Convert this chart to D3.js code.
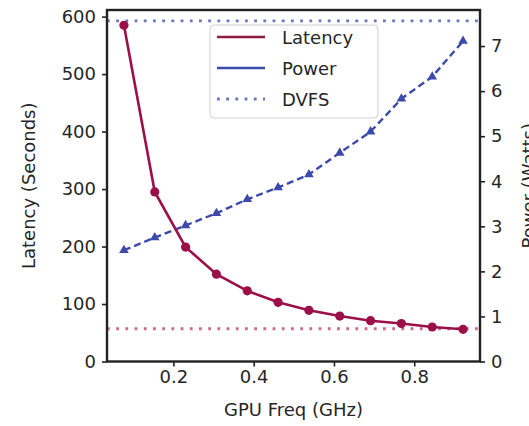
<!DOCTYPE html>
<html>
<head>
<meta charset="utf-8">
<script src="https://cdn.jsdelivr.net/npm/d3@7"></script>
<style>
  body { margin: 0; background: #fff; }
  svg text { font-family: "DejaVu Sans", sans-serif; fill: #262626; }
</style>
</head>
<body>
<svg width="529" height="426"></svg>
<script>
// data
var freqs = [0.0768, 0.1536, 0.2304, 0.3072, 0.384, 0.4608, 0.5376, 0.6144, 0.6912, 0.768, 0.8448, 0.9216];
var latency = [585, 295, 199, 152, 123, 103, 89, 79, 71, 66, 60, 56];
var power = [2.47, 2.75, 3.02, 3.29, 3.6, 3.86, 4.15, 4.63, 5.1, 5.83, 6.32, 7.11];
var dvfsLatency = 57;
var dvfsPower = 7.56;
var xTicks = [0.2, 0.4, 0.6, 0.8];
var latTicks = [0, 100, 200, 300, 400, 500, 600];
var powTicks = [0, 1, 2, 3, 4, 5, 6, 7];
var legendItems = ["Latency", "Power", "DVFS"];

var svg = d3.select("svg");
var plotL = 107, plotR = 480, plotT = 10, plotB = 361.5;
var red = "#9b1048", blue = "#3d4aac";
var dots = "2.8,6.4";

var x = d3.scaleLinear().domain([0.0346, 0.9638]).range([plotL, plotR]);
var yL = d3.scaleLinear().domain([0, 611.5]).range([plotB, plotT]);
var yR = d3.scaleLinear().domain([0, 7.8]).range([plotB, plotT]);

// dvfs reference lines
svg.append("line")
  .attr("x1", plotL).attr("x2", plotR)
  .attr("y1", yR(dvfsPower)).attr("y2", yR(dvfsPower))
  .attr("stroke", blue).attr("stroke-width", 2.8)
  .attr("stroke-dasharray", dots).attr("opacity", 0.75);
svg.append("line")
  .attr("x1", plotL).attr("x2", plotR)
  .attr("y1", yL(dvfsLatency)).attr("y2", yL(dvfsLatency))
  .attr("stroke", "#c2386a").attr("stroke-width", 2.8)
  .attr("stroke-dasharray", dots).attr("opacity", 0.75);

// power line
svg.append("path")
  .datum(power)
  .attr("fill", "none")
  .attr("stroke", blue)
  .attr("stroke-width", 2.4)
  .attr("stroke-dasharray", "7,4")
  .attr("d", d3.line().x(function (d, i) { return x(freqs[i]); }).y(function (d) { return yR(d); }));

svg.append("g").selectAll("path")
  .data(power)
  .enter()
  .append("path")
    .attr("d", d3.symbol().type(d3.symbolTriangle).size(40))
    .attr("transform", function (d, i) { return "translate(" + x(freqs[i]) + "," + yR(d) + ")"; })
    .attr("fill", blue);

// latency line
svg.append("path")
  .datum(latency)
  .attr("fill", "none")
  .attr("stroke", red)
  .attr("stroke-width", 2.6)
  .attr("d", d3.line().x(function (d, i) { return x(freqs[i]); }).y(function (d) { return yL(d); }));

svg.append("g").selectAll("circle")
  .data(latency)
  .enter()
  .append("circle")
    .attr("cx", function (d, i) { return x(freqs[i]); })
    .attr("cy", function (d) { return yL(d); })
    .attr("r", 4.6)
    .attr("fill", red);

// frame
svg.append("rect")
  .attr("x", plotL).attr("y", plotT)
  .attr("width", plotR - plotL).attr("height", plotB - plotT)
  .attr("fill", "none").attr("stroke", "#222").attr("stroke-width", 2.4);

// axes
function styleAxis(g) {
  g.select(".domain").remove();
  g.selectAll(".tick line").attr("stroke", "#222").attr("stroke-width", 1.6);
  g.selectAll(".tick text").style("font-size", "18px").attr("fill", null);
}

svg.append("g")
  .attr("transform", "translate(0," + plotB + ")")
  .call(d3.axisBottom(x).tickValues(xTicks).tickSize(5).tickPadding(4).tickFormat(d3.format(".1f")))
  .call(styleAxis);

svg.append("g")
  .attr("transform", "translate(" + plotL + ",0)")
  .call(d3.axisLeft(yL).tickValues(latTicks).tickSize(5).tickPadding(6))
  .call(styleAxis);

svg.append("g")
  .attr("transform", "translate(" + plotR + ",0)")
  .call(d3.axisRight(yR).tickValues(powTicks).tickSize(5).tickPadding(6))
  .call(styleAxis);

// axis titles
svg.append("text")
  .attr("x", (plotL + plotR) / 2).attr("y", 416)
  .attr("text-anchor", "middle").style("font-size", "18px")
  .text("GPU Freq (GHz)");

svg.append("text")
  .attr("transform", "translate(35," + (plotT + plotB) / 2 + ") rotate(-90)")
  .attr("text-anchor", "middle").style("font-size", "18px")
  .text("Latency (Seconds)");

// clipped by the page edge, as in the original
svg.append("text")
  .attr("transform", "translate(535," + (plotT + plotB) / 2 + ") rotate(-90)")
  .attr("text-anchor", "middle").style("font-size", "18px")
  .text("Power (Watts)");

// legend
var legend = svg.append("g");
legend.append("rect")
  .attr("x", 210).attr("y", 25).attr("width", 168).attr("height", 93)
  .attr("rx", 4)
  .attr("fill", "#fff").attr("fill-opacity", 0.85)
  .attr("stroke", "#d0d0d0").attr("stroke-width", 1);

var legendStyles = [
  { color: "#8e1a40", dash: null },
  { color: blue, dash: null },
  { color: blue, dash: dots }
];

legend.selectAll("g.item")
  .data(legendItems)
  .enter()
  .append("g")
    .attr("class", "item")
    .attr("transform", function (d, i) { return "translate(0," + (37 + i * 31) + ")"; })
    .each(function (d, i) {
      var g = d3.select(this);
      g.append("line")
        .attr("x1", 217).attr("x2", 265)
        .attr("stroke", legendStyles[i].color)
        .attr("stroke-width", i == 2 ? 2.8 : 2.4)
        .attr("opacity", i == 2 ? 0.75 : 1)
        .attr("stroke-dasharray", legendStyles[i].dash);
      g.append("text")
        .attr("x", 282).attr("y", 6.5)
        .style("font-size", "18px")
        .text(d);
    });
</script>
</body>
</html>
